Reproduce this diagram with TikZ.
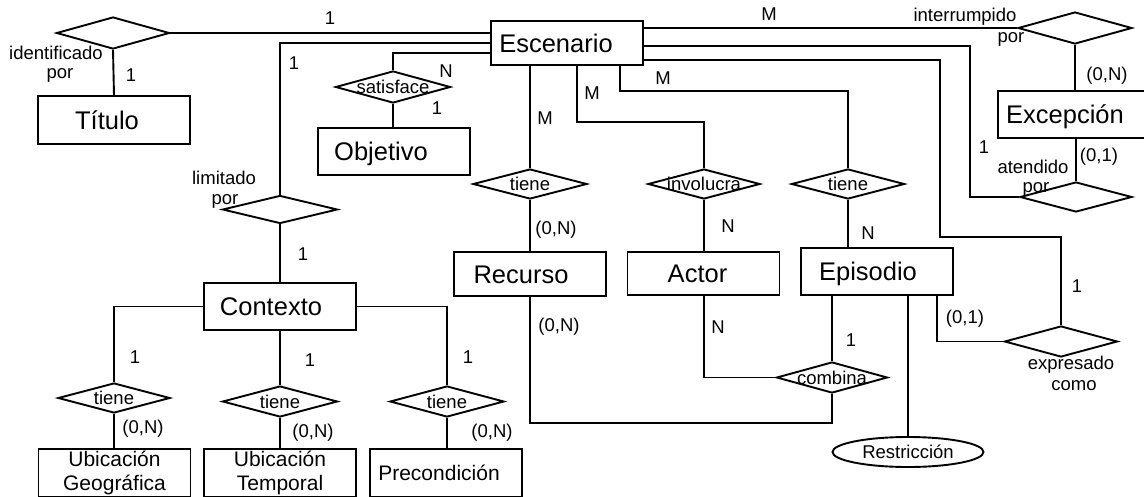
\documentclass[tikz,border=0pt]{standalone}
\usepackage{fontspec}
\setmainfont{Liberation Sans}
\usetikzlibrary{shapes.geometric}
% text centred on a point, shifted sideways by half of #1
\newcommand\shiftedtext[2]{\makebox[0pt]{\hspace*{#1}#2}}
\newcommand\setfs[1]{\fontsize{#1}{#1}\selectfont}
\begin{document}
\begin{tikzpicture}[x=1pt,y=-1pt,line width=1.9pt,
  ent/.style={draw,rectangle,inner sep=0pt,minimum width=152pt,
    font=\setfs{25.5},text height=18pt,text depth=0pt},
  lowent/.style={draw,rectangle,inner sep=0pt,minimum width=152pt,
    minimum height=48pt,align=center,font=\fontsize{21}{24}\selectfont},
  rel/.style={draw,diamond,inner sep=0pt,font=\setfs{18.5},
    text height=13pt,text depth=0pt},
  card/.style={inner sep=0pt,font=\setfs{18.5}},
  attr/.style={draw,ellipse,inner sep=0pt,minimum width=151pt,
    minimum height=30pt,font=\setfs{18.5}}]
\clip (0,0) rectangle (1144,496);

% entities
\node[ent,minimum height=44pt] (esc) at (567,43)    {\shiftedtext{-22pt}{Escenario}};
\node[ent,minimum height=48pt] (tit) at (114,120)   {\shiftedtext{-14pt}{Título}};
\node[ent,minimum height=47pt] (obj) at (394,151.5) {\shiftedtext{-26pt}{Objetivo}};
\node[ent,minimum height=47pt] (ctx) at (280,306.5) {\shiftedtext{-18pt}{Contexto}};
\node[ent,minimum height=44pt] (rec) at (530,274)   {\shiftedtext{-18pt}{Recurso}};
\node[ent,minimum height=43pt] (act) at (703.5,273.5){\shiftedtext{-12pt}{Actor}};
\node[ent,minimum height=47pt] (epi) at (877,271.5) {\shiftedtext{-18pt}{Episodio}};
\node[ent,minimum height=47pt] (exc) at (1074,114.5){\shiftedtext{-18pt}{Excepción}};
\node[lowent] (ubg) at (114.5,473) {Ubicación\\Geográfica};
\node[lowent] (ubt) at (280,473)   {Ubicación\\Temporal};
\node[lowent] (pre) at (446,473)   {\shiftedtext{-14pt}{Precondición}};
\node[attr] (res) at (908,452) {Restricción};

% relationships
\node[rel,minimum width=113pt,minimum height=32pt] (ident) at (113,33)    {};
\node[rel,minimum width=115pt,minimum height=32pt] (sat)   at (393,87)    {\shiftedtext{0pt}{satisface}};
\node[rel,minimum width=115pt,minimum height=28pt] (lim)   at (280,209.5) {};
\node[rel,minimum width=114pt,minimum height=30pt] (tr)    at (530,184)   {\shiftedtext{0pt}{tiene}};
\node[rel,minimum width=112pt,minimum height=30pt] (inv)   at (704,184)   {\shiftedtext{0pt}{involucra}};
\node[rel,minimum width=113pt,minimum height=30pt] (te)    at (848,184)   {\shiftedtext{0pt}{tiene}};
\node[rel,minimum width=114pt,minimum height=32pt] (intr)  at (1075,28)   {};
\node[rel,minimum width=112pt,minimum height=30pt] (ate)   at (1076,197)  {};
\node[rel,minimum width=113pt,minimum height=31pt] (exp)   at (1061,341.5){};
\node[rel,minimum width=111pt,minimum height=31pt] (comb)  at (832,377.5) {\shiftedtext{0pt}{combina}};
\node[rel,minimum width=112pt,minimum height=30pt] (tg)    at (114,398)   {\shiftedtext{0pt}{tiene}};
\node[rel,minimum width=115pt,minimum height=31pt] (tt)    at (280,401.5) {\shiftedtext{0pt}{tiene}};
\node[rel,minimum width=114pt,minimum height=31pt] (tp)    at (447,401.5) {\shiftedtext{0pt}{tiene}};

% connectors around Escenario
\draw (ident.east) -- (ident.east -| esc.west);
\draw (ident.south) -- (tit.north);
\draw (esc.west) -| (lim.north);
\draw ([yshift=-10pt]esc.west) -| (sat.north);
\draw (sat.south) -- (sat.south |- obj.north);
\draw (tr.north |- esc.south) -- (tr.north);
\draw ([xshift=10pt]esc.south) -- ++(0,56) -| (inv.north);
\draw ([xshift=53pt]esc.south) -- ++(0,25) -| (te.north);
\draw ([yshift=15pt]esc.east) -- (esc.east |- intr.west) -- (intr.west);
\draw ([yshift=-3pt]esc.east) -- ++(326,0) |- (ate.west);
\draw ([yshift=-17pt]esc.east) -- ++(296,0) -- ++(0,177) -| (exp.north);
\draw (intr.south) -- (intr.south |- exc.north);
\draw (ate.north |- exc.south) -- (ate.north);

% connectors of the lower entities
\draw (lim.south) -- (ctx.north);
\draw (ctx.west) -| (tg.north);
\draw (ctx.south) -- (tt.north);
\draw (ctx.east) -| (tp.north);
\draw (tg.south) -- (tg.south |- ubg.north);
\draw (tt.south) -- (ubt.north);
\draw (tp.south) -- (tp.south |- pre.north);
\draw (tr.south) -- (rec.north);
\draw (inv.south) -- (inv.south |- act.north);
\draw (te.south) -- (te.south |- epi.north);
\draw (act.south -| inv.south) |- (comb.west);
\draw (comb.north |- epi.south) -- (comb.north);
\draw (comb.south) -- ++(0,29) -| (rec.south);
\draw (res.north |- epi.south) -- (res.north);
\draw ([xshift=60pt]epi.south) |- (exp.west);

% role names and cardinalities
\node[card] (n1)  at (330,18)   {1};
\node[card] (n2)  at (131,75)   {1};
\node[card] (n3)  at (56,53)    {identificado};
\node[card] (n4)  at (60,75)    {por};
\node[card] (n5)  at (294,63)   {1};
\node[card] (n6)  at (446,71)   {N};
\node[card] (n7)  at (437,108)  {1};
\node[card] (n8)  at (224,178)  {limitado};
\node[card] (n9)  at (225,201)  {por};
\node[card] (n10) at (303,254)  {1};
\node[card] (n11) at (545,118)  {M};
\node[card] (n12) at (592,93)   {M};
\node[card] (n13) at (663,78)   {M};
\node[card] (n14) at (556,230)  {(0,N)};
\node[card] (n15) at (728,226)  {N};
\node[card] (n16) at (868,233)  {N};
\node[card] (n17) at (718,327)  {N};
\node[card] (n18) at (851,340)  {1};
\node[card] (n19) at (559,327)  {(0,N)};
\node[card] (n20) at (965,319)  {(0,1)};
\node[card] (n21) at (1077,286) {1};
\node[card] (n22) at (1071,365) {expresado};
\node[card] (n23) at (1074,386) {como};
\node[card] (n24) at (769,14)   {M};
\node[card] (n25) at (965,17)   {interrumpido};
\node[card] (n26) at (1011,39)  {por};
\node[card] (n27) at (1107,76)  {(0,N)};
\node[card] (n28) at (984,147)  {1};
\node[card] (n29) at (1099,157) {(0,1)};
\node[card] (n30) at (1033,167) {atendido};
\node[card] (n31) at (1036,189) {por};
\node[card] (n32) at (135,357)  {1};
\node[card] (n33) at (310,360)  {1};
\node[card] (n34) at (468,357)  {1};
\node[card] (n35) at (143,429)  {(0,N)};
\node[card] (n36) at (313,433)  {(0,N)};
\node[card] (n37) at (492,433)  {(0,N)};
\end{tikzpicture}
\end{document}
